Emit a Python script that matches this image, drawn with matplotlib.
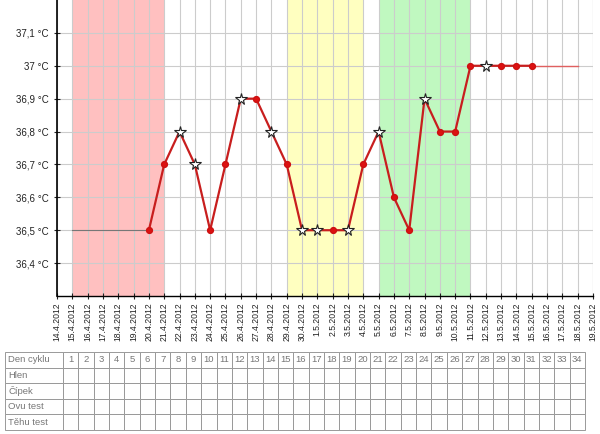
import matplotlib.pyplot as plt
import numpy as np

# dates on the x axis (one tick per day)
dates = ['14.4.2012', '15.4.2012', '16.4.2012', '17.4.2012', '18.4.2012', '19.4.2012',
         '20.4.2012', '21.4.2012', '22.4.2012', '23.4.2012', '24.4.2012', '25.4.2012',
         '26.4.2012', '27.4.2012', '28.4.2012', '29.4.2012', '30.4.2012', '1.5.2012',
         '2.5.2012', '3.5.2012', '4.5.2012', '5.5.2012', '6.5.2012', '7.5.2012',
         '8.5.2012', '9.5.2012', '10.5.2012', '11.5.2012', '12.5.2012', '13.5.2012',
         '14.5.2012', '15.5.2012', '16.5.2012', '17.5.2012', '18.5.2012', '19.5.2012']

# measured temperatures (None = no measurement)
temps = [None, None, None, None, None, None,
         36.5, 36.7, 36.8, 36.7, 36.5, 36.7,
         36.9, 36.9, 36.8, 36.7, 36.5, 36.5,
         36.5, 36.5, 36.7, 36.8, 36.6, 36.5,
         36.9, 36.8, 36.8, 37.0, 37.0, 37.0,
         37.0, 37.0, None, None, None, None]

# which measurements are drawn as stars
stars = [0, 0, 0, 0, 0, 0,
         0, 0, 1, 1, 0, 0,
         1, 0, 1, 0, 1, 1,
         0, 1, 0, 1, 0, 0,
         1, 0, 0, 0, 1, 0,
         0, 0, 0, 0, 0, 0]

# grey baseline before the first measurement, red trail after the last
baseline_days = ['15.4.2012', '20.4.2012']
baseline_temp = 36.5
trail_days = ['15.5.2012', '18.5.2012']
trail_temp = 37.0

# coloured phases: (first day, last day)
phase_red = ('15.4.2012', '21.4.2012')
phase_yellow = ('29.4.2012', '4.5.2012')
phase_green = ('5.5.2012', '11.5.2012')

y_ticks = [36.4, 36.5, 36.6, 36.7, 36.8, 36.9, 37.0, 37.1]
y_labels = ['36,4 °C', '36,5 °C', '36,6 °C', '36,7 °C', '36,8 °C', '36,9 °C', '37 °C', '37,1 °C']

row_labels = ['Den cyklu', 'Hlen', 'Čípek', 'Ovu test', 'Těhu test']
cycle_days = [str(d) for d in range(1, 35)]

plt.rcParams['font.family'] = ['Liberation Sans', 'DejaVu Sans']

fig = plt.figure(figsize=(6.0, 4.34), dpi=100)
ax = fig.add_axes([57 / 600, 138 / 434, 536 / 600, 296 / 434])

x = np.arange(len(dates))
pos = {d: i for i, d in enumerate(dates)}

for (a, b), col in [(phase_red, '#ffc0c0'), (phase_yellow, '#ffffc0'), (phase_green, '#c0f8c0')]:
    ax.axvspan(pos[a], pos[b], color=col, lw=0, zorder=0)

ax.plot([pos[baseline_days[0]], pos[baseline_days[1]]], [baseline_temp] * 2,
        color='#777777', lw=0.8, zorder=2)
ax.plot([pos[trail_days[0]], pos[trail_days[1]]], [trail_temp] * 2,
        color='#e06060', lw=1.0, zorder=2)

xi = [i for i, t in zip(x, temps) if t is not None]
yt = [t for t in temps if t is not None]
ax.plot(xi, yt, color='#c81e1e', lw=1.6, zorder=3)

dx = [i for i, t, s in zip(x, temps, stars) if t is not None and not s]
dy = [t for t, s in zip(temps, stars) if t is not None and not s]
sx = [i for i, t, s in zip(x, temps, stars) if t is not None and s]
sy = [t for t, s in zip(temps, stars) if t is not None and s]
ax.plot(dx, dy, 'o', color='#dd1111', ms=4.2, mec='#cc1111', zorder=4)
ax.plot(sx, sy, '*', mfc='white', mec='#222222', mew=0.8, ms=8.5, zorder=5)

ax.set_xlim(0, len(dates) - 1)
ax.set_ylim(36.3, 37.2)
ax.set_xticks(x)
ax.set_xticklabels(dates, rotation=90, fontsize=6.2, color='#222222')
ax.set_yticks(y_ticks)
ax.set_yticklabels(y_labels, fontsize=7, color='#333333')
ax.grid(True, color='#cccccc', lw=0.8, zorder=1)
ax.set_axisbelow(True)
ax.tick_params(axis='both', direction='inout', length=5, width=0.8, colors='#222222')
ax.tick_params(axis='x', pad=2)
for side in ['top', 'right']:
    ax.spines[side].set_visible(False)
ax.spines['left'].set_linewidth(1.2)
ax.spines['bottom'].set_linewidth(1.0)
ax.axvline(len(dates) - 1, color='#cccccc', lw=0.8)

# table under the chart
tax = fig.add_axes([5 / 600, 4 / 434, 580 / 600, 78 / 434])
tax.axis('off')
cells = [[row_labels[0]] + cycle_days] + [[r] + [''] * len(cycle_days) for r in row_labels[1:]]
label_w = 58 / 580
day_w = (1 - label_w) / len(cycle_days)
tbl = tax.table(cellText=cells, bbox=[0, 0, 1, 1], cellLoc='center',
                colWidths=[label_w] + [day_w] * len(cycle_days))
tbl.auto_set_font_size(False)
for (r, c), cell in tbl.get_celld().items():
    cell.set_edgecolor('#999999')
    cell.set_linewidth(0.7)
    cell.get_text().set_fontsize(6.8)
    cell.get_text().set_color('#777777')
    if c == 0:
        cell._loc = 'left'
        cell.get_text().set_ha('left')
        cell.PAD = 0.06

fig.savefig('out.png', dpi=100)
